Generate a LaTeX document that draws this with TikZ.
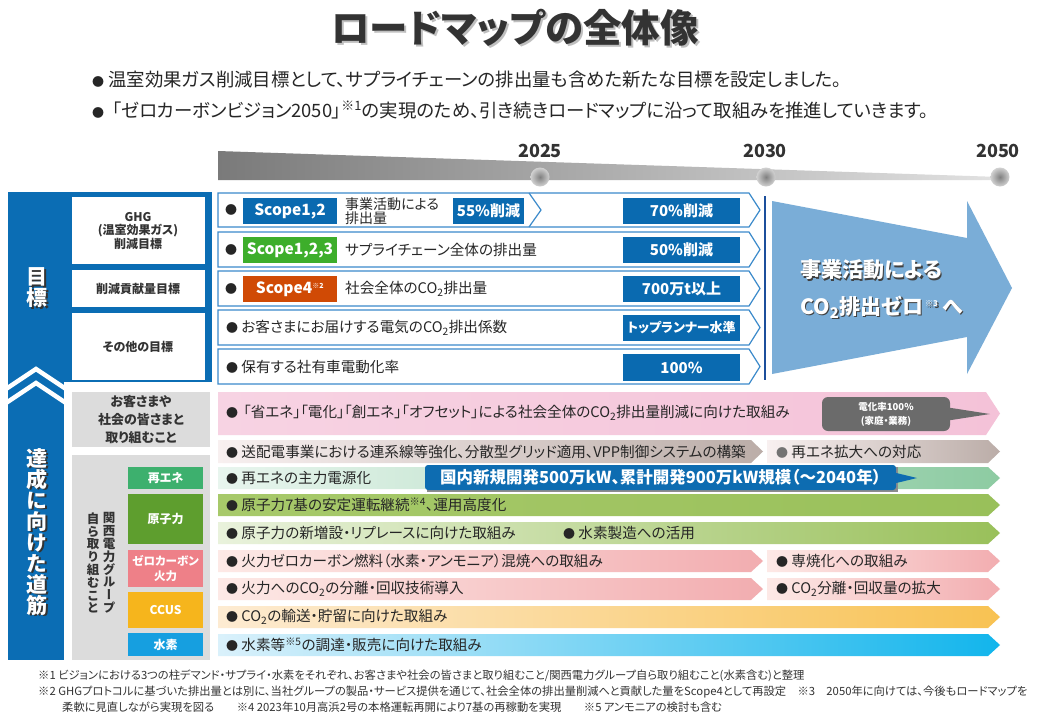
\documentclass[tikz,border=0pt]{standalone}
\usepackage{fontspec}
\setmainfont[RawFeature=+palt]{Noto Sans CJK JP}
\newfontfamily\vjfont[RawFeature=+vert]{Noto Sans CJK JP}
\definecolor{mainblue}{HTML}{0B6DB4}
\definecolor{rowborder}{HTML}{3B8ACB}
\definecolor{valblue}{HTML}{0A6AB0}
\definecolor{scopegreen}{HTML}{3DAE2B}
\definecolor{scopeorange}{HTML}{D04A05}
\definecolor{arrowblue}{HTML}{7AADD7}
\definecolor{vlinec}{HTML}{1C4F9C}
\definecolor{titlegray}{HTML}{333333}
\definecolor{txtc}{HTML}{262626}
\definecolor{lgray}{HTML}{DCDCDC}
\definecolor{catA}{HTML}{3DB06E}
\definecolor{catB}{HTML}{5E9E2E}
\definecolor{catC}{HTML}{EE8088}
\definecolor{catD}{HTML}{F6B51C}
\definecolor{catE}{HTML}{169FE0}
\definecolor{calgray}{HTML}{6B6B6B}
\definecolor{calblue}{HTML}{0D6CB1}
\definecolor{tlL}{HTML}{7A7A7A}
\definecolor{tlR}{HTML}{E2E2E2}
\definecolor{pinkL}{HTML}{F7D3E3}
\definecolor{pinkR}{HTML}{F4C2D8}
\definecolor{taupeL}{HTML}{F8F0F0}
\definecolor{taupeR}{HTML}{BBADA8}
\definecolor{greenL}{HTML}{E8F5EE}
\definecolor{greenR}{HTML}{8DCBA2}
\definecolor{nucL}{HTML}{A7C96A}
\definecolor{nucR}{HTML}{99C05A}
\definecolor{nuc2L}{HTML}{E9F2DC}
\definecolor{fireL}{HTML}{FDE9E6}
\definecolor{fireR}{HTML}{F2ADB0}
\definecolor{ccusL}{HTML}{FDEBD2}
\definecolor{ccusR}{HTML}{F8C252}
\definecolor{h2L}{HTML}{DAF1FB}
\definecolor{h2R}{HTML}{12B5EC}
\newcommand\lowrow[7]{\shade[left color=#6,right color=#7] (#1,#2) -- (#3,#2) -- (#5,{(#2+#4)/2}) -- (#3,#4) -- (#1,#4) -- cycle;}
\newcommand\uprow[2]{\draw[rowborder, line width=1.2, fill=white] (218,#1) -- (749,#1) -- (760,{(#1+#2)/2}) -- (749,#2) -- (218,#2) -- cycle;}
\newcommand\COt{CO\textsubscript{2}}
\newcommand\bu{{\fontsize{12}{12}\selectfont ●}\ }
\tikzset{
  rowtxt/.style={anchor=west, inner sep=0, font=\fontsize{14.6}{16}\selectfont, text=txtc},
  bul/.style={inner sep=0, font=\fontsize{12}{14}\selectfont, text=txtc},
  badge/.style={inner sep=0, minimum width=94, minimum height=26, text=white, font=\fontsize{15.5}{17}\selectfont\bfseries},
  valbox/.style={inner sep=0, fill=valblue, minimum width=117, minimum height=26, text=white, font=\fontsize{15}{16}\selectfont\bfseries},
  lab/.style={align=center, inner sep=0, text=titlegray, font=\fontsize{12}{13.5}\selectfont\bfseries},
  cat/.style={inner sep=0, minimum width=75, text=white, align=center, font=\fontsize{12}{13}\selectfont\bfseries},
  yr/.style={inner sep=0, text=titlegray, font=\fontsize{18}{18}\selectfont\bfseries},
  dot/.style={circle, inner sep=0, minimum size=19, inner color=black!50, outer color=black!18},
  foot/.style={anchor=west, inner sep=0, text=titlegray, font=\fontsize{11.3}{12}\selectfont},
  big/.style={anchor=west, inner sep=0, font=\fontsize{21}{22}\selectfont\bfseries},
}
\begin{document}
\begin{tikzpicture}[x=1pt,y=-1pt]
\useasboundingbox[fill=white] (0,0) rectangle (1038,718);
% title
\node (titlesh) [text=black!25, font=\fontsize{38.5}{40}\selectfont\bfseries] at (517,30) {ロードマップの全体像};
\node (title) [text=titlegray, font=\fontsize{38.5}{40}\selectfont\bfseries] at (515,28) {ロードマップの全体像};
% intro bullets
\node (b1) [anchor=west, inner sep=0, text=txtc, font=\fontsize{18.4}{18}\selectfont] at (92,80) {\bu 温室効果ガス削減目標として、サプライチェーンの排出量も含めた新たな目標を設定しました。};
\node (b2) [anchor=west, inner sep=0, text=txtc, font=\fontsize{18.4}{18}\selectfont] at (92,110) {\bu\hspace{4pt}「ゼロカーボンビジョン2050」\textsuperscript{※1}の実現のため、引き続きロードマップに沿って取組みを推進していきます。};
% timeline
\shade[left color=tlL, right color=tlR] (218,151) -- (1000,177) -- (1000,180) -- (218,180) -- cycle;
\node (d25) [dot] at (540,177) {};
\node (d30) [dot] at (766,177) {};
\node (d50) [dot] at (1000,177) {};
\node (y25) [yr] at (540,151) {2025};
\node (y30) [yr] at (765,151) {2030};
\node (y50) [yr] at (998,151) {2050};
% upper blue panel and column
\fill[mainblue] (8,192) rectangle (212,382);
\fill[mainblue] (8,382) rectangle (64,660);
\draw[white, line width=4.5] (6,389) -- (36,369) -- (66,389);
\draw[white, line width=4.5] (6,403) -- (36,383) -- (66,403);
\fill[white] (72,197) rectangle (205,264);
\fill[white] (72,270) rectangle (205,307);
\fill[white] (72,313) rectangle (205,380);
\node (mkS) [text=black!80, align=center, inner sep=0, font=\fontsize{21}{21}\selectfont\bfseries] at (38.5,289.5) {目\\標};
\node (mk) [text=white, align=center, inner sep=0, font=\fontsize{21}{21}\selectfont\bfseries] at (37,288) {目\\標};
\node (ghg) [lab] at (138,231) {GHG\\(温室効果ガス)\\削減目標};
\node (kou) [lab] at (138,288.5) {削減貢献量目標};
\node (oth) [lab] at (138,347) {その他の目標};
% upper rows
\uprow{193}{227}
\uprow{232}{267}
\uprow{271}{306}
\uprow{310}{345}
\uprow{349}{384}
\draw[rowborder, line width=1.2] (529,193) -- (541,210) -- (529,227);
\node (u1b) [bul] at (231,210) {●};
\node (u2b) [bul] at (231,250) {●};
\node (u3b) [bul] at (231,289) {●};
\node (s12) [badge, fill=valblue] at (290,211) {Scope1,2};
\node (s123) [badge, fill=scopegreen] at (290,250) {Scope1,2,3};
\node (s4) [badge, fill=scopeorange] at (290,289) {Scope4\textsuperscript{\fontsize{7}{8}\selectfont ※2}};
\node (u1t) [rowtxt, align=left, font=\fontsize{14}{13.5}\selectfont] at (345,211) {事業活動による\\排出量};
\node (u2t) [rowtxt] at (345,250) {サプライチェーン全体の排出量};
\node (u3t) [rowtxt] at (345,289) {社会全体の\COt 排出量};
\node (u4t) [rowtxt] at (226,328) {\bu お客さまにお届けする電気の\COt 排出係数};
\node (u5t) [rowtxt] at (226,367) {\bu 保有する社有車電動化率};
\node (v55) [valbox, minimum width=71] at (488.5,211) {55\%削減};
\node (v70) [valbox] at (681.5,211) {70\%削減};
\node (v50) [valbox] at (681.5,250) {50\%削減};
\node (v700) [valbox] at (681.5,289) {700万t以上};
\node (vtop) [valbox, font=\fontsize{13}{14}\selectfont\bfseries] at (681.5,328) {トップランナー水準};
\node (v100) [valbox, minimum height=27] at (681.5,367.5) {100\%};
% 2030 line and big arrow
\draw[vlinec, line width=2.5] (765,196) -- (765,380);
\fill[arrowblue] (772,201) -- (967,238) -- (967,201) -- (1012,288) -- (967,374) -- (967,337) -- (772,374) -- cycle;
\node (z1s) [big, text=black!75] at (801.5,271.5) {事業活動による};
\node (z1) [big, text=white] at (800,270) {事業活動による};
\node (z2s) [big, text=black!75] at (801.5,308.5) {\COt 排出ゼロ\textsuperscript{\fontsize{8}{9}\selectfont\ ※3}\,へ};
\node (z2) [big, text=white] at (800,307) {\COt 排出ゼロ\textsuperscript{\fontsize{8}{9}\selectfont\ ※3}\,へ};
% lower left
\fill[lgray] (72,392) rectangle (210,447);
\fill[lgray] (72,455) rectangle (210,660);
\node (cust) [lab, font=\fontsize{13}{18}\selectfont\bfseries] at (141,420) {お客さまや\\社会の皆さまと\\取り組むこと};
\node (tasS) [text=black!80, align=center, inner sep=0, font=\vjfont\fontsize{21}{21}\selectfont\bfseries] at (38.5,533.5) {達\\成\\に\\向\\け\\た\\道\\筋};
\node (tas) [text=white, align=center, inner sep=0, font=\vjfont\fontsize{21}{21}\selectfont\bfseries] at (37,532) {達\\成\\に\\向\\け\\た\\道\\筋};
\node (kep1) [text=titlegray, align=center, inner sep=0, font=\vjfont\fontsize{12.5}{12.8}\selectfont\bfseries] at (109,563) {関\\西\\電\\力\\グ\\ル\\ー\\プ};
\node (kep2) [text=titlegray, align=center, inner sep=0, font=\vjfont\fontsize{12.5}{12.8}\selectfont\bfseries] at (93,563) {自\\ら\\取\\り\\組\\む\\こ\\と};
\node (cre) [cat, fill=catA, minimum height=22] at (165.5,478) {再エネ};
\node (cnu) [cat, fill=catB, minimum height=50] at (165.5,519) {原子力};
\node (cfi) [cat, fill=catC, minimum height=37, font=\fontsize{11.5}{15}\selectfont\bfseries] at (165.5,568.5) {ゼロカーボン\\火力};
\node (ccc) [cat, fill=catD, minimum height=36] at (165.5,610) {CCUS};
\node (ch2) [cat, fill=catE, minimum height=23] at (165.5,644.5) {水素};
% lower rows
\lowrow{218}{392}{986}{435}{1000}{pinkL}{pinkR}
\lowrow{218}{440}{751}{463}{763}{taupeL}{taupeR}
\lowrow{767}{440}{988}{463}{1000}{taupeL}{taupeR}
\lowrow{218}{467}{988}{489}{1000}{greenL}{greenR}
\lowrow{218}{494}{988}{516}{1000}{nucL}{nucR}
\lowrow{218}{522}{988}{544}{1000}{nuc2L}{nucR}
\lowrow{218}{550}{751}{572}{763}{fireL}{fireR}
\lowrow{767}{550}{988}{572}{1000}{fireL}{fireR}
\lowrow{218}{578}{751}{600}{763}{fireL}{fireR}
\lowrow{767}{578}{988}{600}{1000}{fireL}{fireR}
\lowrow{218}{606}{988}{628}{1000}{ccusL}{ccusR}
\lowrow{218}{634}{988}{656}{1000}{h2L}{h2R}
\node (l1) [rowtxt] at (226,413) {\bu\hspace{2pt}「省エネ」「電化」「創エネ」「オフセット」による社会全体の\COt 排出量削減に向けた取組み};
\node (l2) [rowtxt] at (226,452) {\bu 送配電事業における連系線等強化、分散型グリッド適用、VPP制御システムの構築};
\node (l2b) [rowtxt] at (776,452) {{\color{black!55}\bu}再エネ拡大への対応};
\node (l3) [rowtxt] at (226,478) {\bu 再エネの主力電源化};
\node (l4) [rowtxt] at (226,505) {\bu 原子力7基の安定運転継続\textsuperscript{※4}、運用高度化};
\node (l5) [rowtxt] at (226,533) {\bu 原子力の新増設・リプレースに向けた取組み};
\node (l5b) [rowtxt] at (563,533) {\bu 水素製造への活用};
\node (l6) [rowtxt] at (226,561) {\bu 火力ゼロカーボン燃料（水素・アンモニア）混焼への取組み};
\node (l6b) [rowtxt] at (776,561) {\bu 専焼化への取組み};
\node (l7) [rowtxt] at (226,589) {\bu 火力への\COt の分離・回収技術導入};
\node (l7b) [rowtxt] at (776,589) {\bu \COt 分離・回収量の拡大};
\node (l8) [rowtxt] at (226,617) {\bu \COt の輸送・貯留に向けた取組み};
\node (l9) [rowtxt] at (226,645) {\bu 水素等\textsuperscript{※5}の調達・販売に向けた取組み};
% callouts
\fill[calgray] (945,407) -- (990,414) -- (945,421) -- cycle;
\node (den) [fill=calgray, rounded corners=6, minimum width=128, minimum height=34, inner sep=0, align=center, text=white, font=\fontsize{9.5}{14}\selectfont\bfseries] at (886,414) {電化率100\%\\(家庭・業務)};
\fill[black!45] (427,467) rectangle (898,492);
\fill[calblue] (888,471) -- (917,478) -- (888,485) -- cycle;
\node (kok) [fill=calblue, rounded corners=3, minimum width=471, minimum height=25, inner sep=0, text=white, font=\fontsize{16.5}{18}\selectfont\bfseries] at (660.5,477.5) {国内新規開発500万kW、累計開発900万kW規模（～2040年）};
% footnotes
\node (f1) [foot] at (38,676) {※1 ビジョンにおける3つの柱デマンド・サプライ・水素をそれぞれ、お客さまや社会の皆さまと取り組むこと/関西電力グループ自ら取り組むこと(水素含む)と整理};
\node (f2) [foot] at (38,692) {※2 GHGプロトコルに基づいた排出量とは別に、当社グループの製品・サービス提供を通じて、社会全体の排出量削減へと貢献した量をScope4として再設定　※3　2050年に向けては、今後もロードマップを};
\node (f3) [foot] at (62,707) {柔軟に見直しながら実現を図る　　※4 2023年10月高浜2号の本格運転再開により7基の再稼動を実現　　※5 アンモニアの検討も含む};
\end{tikzpicture}
\end{document}
